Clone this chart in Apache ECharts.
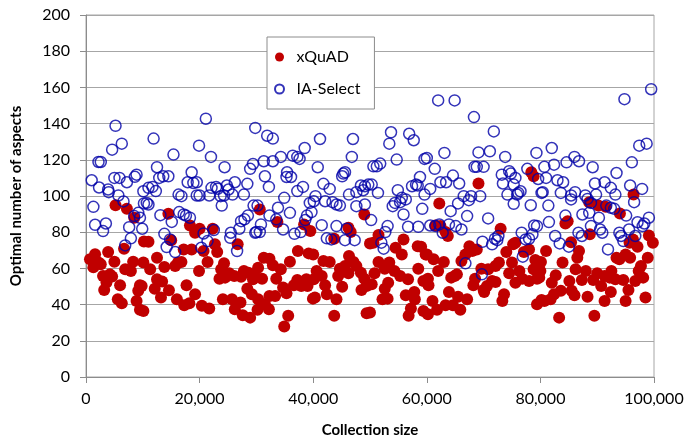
<!DOCTYPE html>
<html>
<head>
<meta charset="utf-8">
<script src="https://cdn.jsdelivr.net/npm/echarts@6/dist/echarts.min.js"></script>
<style>
html,body{margin:0;padding:0;background:#fff;}
#chart{width:687px;height:443px;}
</style>
</head>
<body>
<div id="chart"></div>
<script>
const seriesNames = ['xQuAD', 'IA-Select'];
const xTickValues = [0, 20000, 40000, 60000, 80000, 100000];
const yTickValues = [0, 20, 40, 60, 80, 100, 120, 140, 160, 180, 200];

const xquadPoints = [
[700,65],[1300,60.6],[1600,67.8],[2200,63.2],[2600,62.3],[3000,55.8],[3200,48.1],[3600,52.2],[3900,69],[4200,56.7],
[4600,55.5],[5000,63.7],[5200,94.9],[5600,43],[6000,50.7],[6300,40.8],[6700,70.9],[6900,59.5],[7200,92.9],[7900,58.6],
[8300,63.7],[8500,88],[8900,42],[9200,47.6],[9500,50.7],[9500,37.1],[10100,63.2],[10200,74.8],
[10100,36.5],[9800,50.3],[11000,74.7],[11300,59.5],[12500,65.9],[12500,54],[12100,48.8],[13200,43.9],[13400,52.7],[13800,60.8],
[14500,90.2],[14600,47.9],[15000,75.6],[15700,61.3],[16000,43],[16200,63.2],[16800,63.5],[17200,70.5],[17300,39.6],[17700,50.7],
[18200,40.7],[18300,83.7],[18600,70.5],[19200,79.7],[19200,45.7],[19900,58.6],
[20000,81.9],[22300,81.9],[20700,69.6],[21400,63.5],[22700,73.3],[23100,69],[26700,73.3],[24300,62.8],[23800,59.5],[25200,57.3],
[26100,55.8],[24500,54.9],[23500,54.3],[27800,58.6],[28600,57.6],[27300,55.4],[29600,56.7],[29400,54],[28400,48.8],[29200,45.7],
[24100,43],[25700,43],[20400,39.3],[21700,37.8],[27200,41.1],[26200,37.4],[27600,34.1],[28900,32.8],
[30600,92.5],[33700,85.6],[38400,84.3],[39500,80.6],[37300,69.6],[39200,68.3],[31300,65.9],[32300,65.4],[35900,63.7],[30300,60.4],
[32900,61.7],[34300,59.5],[33500,54.3],[31000,54.3],[37200,53.6],[38800,54],[40100,54],[36600,50.7],[37900,50.3],[39000,50.3],
[34700,49.4],[35300,46.3],[32300,44.8],[33300,44.8],[30300,43],[39950,43.3],[31500,40.2],[32200,37.4],[30200,37.1],[35600,33.8],[34900,27.9],
[49000,89.8],[46200,82.5],[46600,80.1],[43700,76.4],[50000,73.8],[40000,67.7],[41800,64.1],[42900,63.5],[46300,66.8],[45600,61.3],
[47100,63.5],[47600,61.3],[40600,58.6],[41500,55.8],[44700,59.8],[44400,55.8],[46200,57.3],[48400,57.6],[49000,54.3],[42100,50.7],
[45100,49.9],[48500,48.1],[49400,50.3],[42400,45.7],[40300,43.9],[44100,43],[49400,35.2],[43700,33.8],
[51500,78.4],[50600,74.2],[55900,76],[54500,71.4],[55600,67.7],[58400,72.3],[59000,72],[59800,67.7],[51500,63.5],[53400,63.2],
[52600,59.8],[50800,57.3],[54300,58.6],[55300,55.8],[56700,54],[58500,59.8],[59400,53.1],[60200,54.3],[50300,51.2],[53200,52.1],
[52600,48.8],[56300,45.2],[57800,47],[57900,43],[52200,43],[53100,43.3],[57200,37.8],[56800,33.8],[50000,35.6],[59400,36.5],
[69100,106.9],[62200,95.9],[61500,83.7],[62400,83.4],[63300,80.1],[63700,77.9],[67500,72.3],[68800,70.5],[66800,67.7],[68000,69.6],
[60000,67.7],[61200,65],[63000,63.5],[66100,64.1],[62000,58.6],[69600,59.8],[65300,56.7],[64300,54.9],[64900,55.8],[68500,54.3],
[68200,50.7],[60300,50.7],[70000,48.1],[63900,47],[65500,44.4],[67100,43],[61000,42],[63300,39.6],[64600,39.6],[61800,37.1],
[60200,34.7],[65900,37.1],
[78400,113.1],[78800,110.9],[73000,81.9],[75600,74.2],[75200,73.3],[74000,69],[77100,69],[78000,70.5],[72700,63.2],[72100,61.3],
[70800,59.5],[75000,63.2],[76300,58.6],[74500,57.3],[79100,64.6],[80000,58.6],[78800,59.5],[71500,53.1],[72100,52.5],[70600,50.3],
[70100,47],[75600,52.1],[76800,54.3],[78000,53.1],[79400,54.3],[73600,45.7],[73300,42],[79400,40.2],[80200,42.6],
[88600,96.6],[90200,94.7],[84400,84.8],[84800,86.1],[88700,78.8],[85400,74.5],[81000,69.6],[86800,69.6],[86500,65.9],[80100,63.5],
[83900,63.2],[86200,59.5],[88000,58.6],[87300,53.6],[82700,56.2],[82000,52.1],[79800,54.9],[85100,53.1],[89300,53.6],[90000,57.3],
[80700,42],[81800,43],[82400,45.7],[83600,47.6],[85500,47.6],[86000,45.2],[88300,44.4],[83300,32.8],[89500,33.8],
[96400,100.8],[91500,94],[94000,90.3],[99100,78.2],[99800,74.2],[97100,72],[96300,76],[95700,74.2],[93400,65.9],[93900,65],
[95000,67.7],[95800,65.9],[98900,65.9],[97700,61.3],[97300,58.6],[92500,58.6],[92200,54.9],[91300,55.8],[93200,54],[94600,53.6],
[96700,53.1],[98100,54.9],[90700,50.3],[92400,47],[95500,48.1],[91300,42],[95000,42],[98500,43.9]
];

const iaSelectPoints = [
[1000,108.7],[1300,94],[1600,84.1],[2200,118.8],[2600,118.8],[2300,104.7],[3000,80.6],[3500,84.8],[3900,103.6],[4000,102.1],
[4600,125.6],[5000,110],[5200,138.8],[5700,100.3],[5900,110],[6300,128.9],[6600,97],[6900,72.7],[7200,107.6],[7600,82.8],
[7900,76.6],[8500,88.9],[8600,110.6],[8900,111.8],[9200,90.7],[9500,88],[9900,81.9],[10100,102.6],[10200,95.9],
[11900,131.7],[15400,122.9],[12500,115.9],[12900,110],[13600,110.9],[14500,110.9],[18600,113.1],[17900,107.6],[18900,107.2],[19500,107.6],
[11000,104.5],[11700,105],[12300,102.7],[16300,100.8],[16800,99.9],[19500,100.3],[10700,96.2],[11000,95.3],[13100,89.4],[15100,85.7],
[16400,91.1],[17200,89.8],[17600,89.2],[18300,88],[13800,79.1],[14800,76],[14200,71.8],[15700,69],
[21100,142.7],[19900,127.8],[29800,137.6],[22000,121.6],[24400,115.9],[28900,115],[29400,117.7],[26200,107.6],[28400,106.7],[20000,100.3],
[22100,104.5],[22900,105],[23200,104],[24800,105.8],[25100,103.6],[21700,100.3],[23700,99.9],[24300,100.3],[25800,100.8],[27800,100.8],
[23900,94.7],[29500,94.7],[28500,89.2],[27900,87.1],[27300,86.1],[22500,81.2],[20700,79.3],[21400,75.1],[20300,71.4],[25500,79.7],
[25400,76.9],[27000,81.9],[26600,69.6],[29800,79.7],
[31900,133.3],[32900,131.7],[38500,126.5],[31300,119.2],[32900,119.2],[34300,121.6],[36400,122.3],[37200,121.6],[37600,120.5],[35400,113.1],
[35300,110.5],[36100,110.5],[31500,110.9],[32200,105],[38200,105],[37200,102.7],[34900,99],[39400,96.2],[40100,97.1],[30200,94.7],
[33800,93.5],[32300,89.2],[33500,87.1],[35900,90.7],[38900,89.2],[38600,86.7],[39700,91.1],[30800,84.3],[30000,80.1],[30600,80.1],
[34700,81.5],[36700,79.1],[37800,80.1],
[41200,131.5],[47000,131.5],[46800,121.6],[40800,115.9],[45300,112.4],[45600,113.1],[45100,110.9],[41800,106.7],[42900,103.9],[49700,106.3],
[48400,105.8],[49100,105.4],[47600,102.1],[48800,103.2],[46300,100.8],[40400,99.9],[42100,97.1],[43400,96.6],[44100,95.3],[44700,94.7],
[47600,94.4],[49100,95.3],[41500,83.9],[44100,83.4],[45900,81.9],[42400,76.6],[43200,76],[45600,75.6],[47300,75.6],
[53700,135.2],[56900,134.4],[57700,130.8],[53400,128.9],[54700,120.1],[59600,120.5],[50600,116.4],[51200,116.4],[51800,117.9],[58800,110.5],
[57400,105.4],[58100,106.3],[58400,105.8],[50300,106.3],[51400,101.7],[54900,103.2],[55600,99],[56300,98.1],[55300,96.6],[54400,96.2],
[54000,94.4],[59600,100.8],[59200,92.9],[55900,89.8],[50200,86.7],[53100,83.4],[52700,80.1],[56700,83],[58500,83],[52000,74.2],[52400,70.9],
[62000,152.8],[64900,152.8],[68300,143.6],[63100,123.8],[69100,124.1],[60000,121],[61400,115],[68400,116.1],[68800,116.1],[70000,116.1],
[64600,111.3],[62400,107.6],[63400,107.6],[65700,106.9],[60600,103.9],[66500,99.9],[67800,99.9],[67400,97.7],[69400,99.9],[65500,95.9],
[64200,91.6],[67100,88.9],[60600,83.7],[61500,83.4],[62200,84.3],[63900,84.3],[65100,83.4],[66100,81.5],[62800,79.7],[69800,74.7],
[66800,62.8],[69700,56.7],
[71800,135.7],[71100,124.7],[73800,121.6],[79300,123.8],[77700,115],[73200,111.8],[74500,113.7],[74800,112.4],[75600,110],[73400,106.9],
[75300,106.3],[79600,109.4],[74200,100.8],[76100,101.7],[76500,102.6],[75900,100.8],[75300,95.7],[78300,94.9],[80200,101.7],[70800,87.6],
[71500,73.3],[72400,75.6],[72600,77.9],[72000,76.4],[76700,79.7],[77400,76],[78000,76.4],[78900,83.7],[79400,83.4],[78600,78.8],[76900,66.5],
[82000,126.5],[86000,121.6],[86800,119.2],[84600,118.6],[82400,117.3],[80700,116.1],[89200,115.9],[81000,110],[83000,108.7],[84000,107.6],
[89600,106.9],[80400,102.1],[83600,101.7],[86100,102.1],[85400,100.3],[87900,100.3],[88300,98.4],[89800,100.8],[81400,94.7],[85400,98.1],
[88900,96.2],[88600,90.7],[87400,89.8],[84400,89.2],[81500,85.6],[88900,83.4],[86700,79.7],[87300,77.9],[82600,77.9],[83400,73.8],[85000,72],
[99500,159],[94800,153.5],[97400,127.8],[98700,128.9],[96100,118.6],[93400,112.7],[91300,107.6],[92400,104.5],[93200,100.8],[95800,105.8],
[97900,103.9],[91600,94.7],[92400,93.5],[93000,92.9],[96500,96.6],[95100,89.2],[90300,88],[90500,81.5],[90900,79.7],[97100,85.5],
[98300,84.8],[99100,88],[98000,83.4],[93900,79.7],[94200,77.9],[94600,75.1],[95600,81.5],[96700,77.9],[91900,70.5]
];

const chart = echarts.init(document.getElementById('chart'), null, {renderer: 'canvas'});
const fontFam = 'Lato, "Open Sans", sans-serif';
chart.setOption({
  animation: false,
  backgroundColor: '#ffffff',
  textStyle: {fontFamily: fontFam},
  grid: {left: 86, right: 33, top: 15, bottom: 65, show: true, borderColor: '#a6a6a6', borderWidth: 1},
  legend: {
    orient: 'vertical',
    left: 267, top: 37,
    padding: [12, 14, 12, 7],
    backgroundColor: '#ffffff',
    borderColor: '#8c8c8c',
    borderWidth: 1,
    itemWidth: 24, itemHeight: 9,
    itemGap: 16,
    textStyle: {fontSize: 16, color: '#000', fontFamily: fontFam},
    data: seriesNames
  },
  xAxis: {
    type: 'value',
    min: xTickValues[0], max: xTickValues[xTickValues.length - 1],
    interval: xTickValues[1] - xTickValues[0],
    name: 'Collection size',
    nameLocation: 'middle',
    nameGap: 46,
    nameTextStyle: {fontSize: 15, fontWeight: 'bold', color: '#000', fontFamily: fontFam},
    axisLine: {show: true, lineStyle: {color: '#8c8c8c'}},
    axisTick: {show: true, length: 6, lineStyle: {color: '#8c8c8c'}},
    axisLabel: {fontSize: 16, color: '#000', margin: 14, fontFamily: fontFam},
    splitLine: {show: false}
  },
  yAxis: {
    type: 'value',
    min: yTickValues[0], max: yTickValues[yTickValues.length - 1],
    interval: yTickValues[1] - yTickValues[0],
    name: 'Optimal number of aspects',
    nameLocation: 'middle',
    nameGap: 62,
    nameRotate: 90,
    nameTextStyle: {fontSize: 15, fontWeight: 'bold', color: '#000', fontFamily: fontFam},
    axisLine: {show: true, lineStyle: {color: '#8c8c8c'}},
    axisTick: {show: true, length: 6, lineStyle: {color: '#8c8c8c'}},
    axisLabel: {fontSize: 16, color: '#000', margin: 16, fontFamily: fontFam},
    splitLine: {show: true, lineStyle: {color: '#a6a6a6', width: 1}}
  },
  series: [
    {
      name: seriesNames[0],
      type: 'scatter',
      symbol: 'circle',
      symbolSize: 12,
      itemStyle: {color: '#c00000', opacity: 1},
      data: xquadPoints,
      z: 2
    },
    {
      name: seriesNames[1],
      type: 'scatter',
      symbol: 'circle',
      symbolSize: 11,
      itemStyle: {color: 'rgba(255,255,255,0)', borderColor: '#0000a8', borderWidth: 1.5},
      data: iaSelectPoints,
      z: 3
    }
  ]
});
</script>
</body>
</html>
